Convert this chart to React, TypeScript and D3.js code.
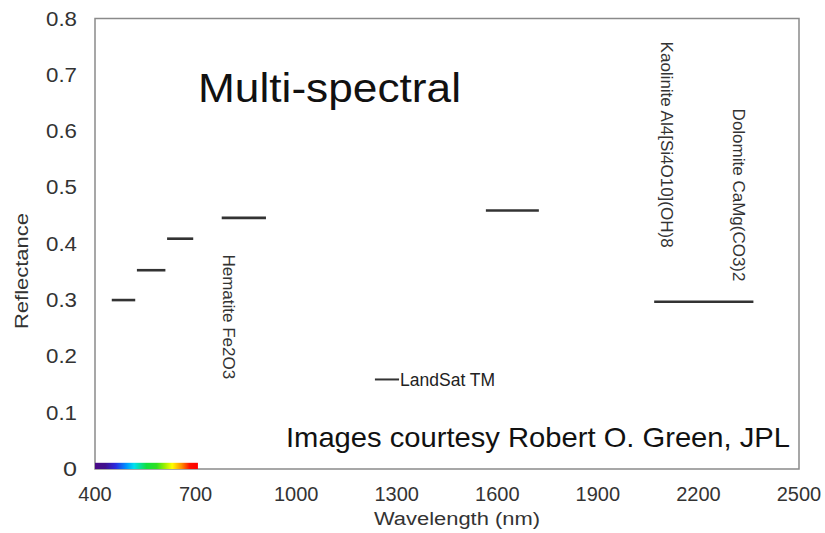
import React from "react";
import * as d3 from "d3";

// LandSat TM band edges (nm) and the reflectance level drawn for each band
const bandStart = [450, 525, 615, 778, 1566, 2068];
const bandEnd = [520, 610, 693, 910, 1724, 2364];
const bandReflectance = [0.3, 0.353, 0.409, 0.446, 0.459, 0.297];

// legend sample for the band markers
const legendStart = 1235;
const legendEnd = 1307;
const legendReflectance = 0.159;
const legendLabel = "LandSat TM";

// visible spectrum strip along the baseline
const visibleStart = 400;
const visibleEnd = 707;
const visibleHeight = 0.011;

const xTicks = [400, 700, 1000, 1300, 1600, 1900, 2200, 2500];
const yTicks = [0, 0.1, 0.2, 0.3, 0.4, 0.5, 0.6, 0.7, 0.8];
const yTickLabels = ["0", "0.1", "0.2", "0.3", "0.4", "0.5", "0.6", "0.7", "0.8"];

// mineral annotations: label, wavelength at the text baseline, reflectance where the text starts
const mineralLabels = ["Hematite Fe2O3", "Kaolinite Al4[Si4O10](OH)8", "Dolomite CaMg(CO3)2"];
const mineralWavelength = [781, 2088, 2302];
const mineralTop = [0.381, 0.759, 0.64];

const W = 825;
const H = 533;
const FONT = "'Liberation Sans', Arial, Helvetica, sans-serif";

export default function App() {
  const x = d3.scaleLinear().domain([400, 2500]).range([95, 799]);
  const y = d3.scaleLinear().domain([0, 0.8]).range([469, 18.5]);

  const spectrumStops = [
    [0, "#4a0a86"],
    [0.1, "#40108f"],
    [0.2, "#2a2ae0"],
    [0.3, "#0090ff"],
    [0.38, "#00e0f0"],
    [0.5, "#10e040"],
    [0.6, "#30e020"],
    [0.68, "#a0f000"],
    [0.75, "#ffff00"],
    [0.84, "#ff9000"],
    [0.92, "#ff1000"],
    [1, "#ff0000"],
  ];

  return (
    <svg
      width={W}
      height={H}
      style={{ position: "absolute", left: 0, top: 0, background: "#fff" }}
      fontFamily={FONT}
    >
      <defs>
        <linearGradient id="spectrum" x1="0" x2="1" y1="0" y2="0">
          {spectrumStops.map(([o, c]) => (
            <stop key={String(o)} offset={Number(o)} stopColor={String(c)} />
          ))}
        </linearGradient>
      </defs>

      {/* plot frame */}
      <rect
        x={x(400)}
        y={y(0.8)}
        width={x(2500) - x(400)}
        height={y(0) - y(0.8)}
        fill="#fff"
        stroke="#8a8a8a"
        strokeWidth={1.5}
      />

      {/* visible spectrum */}
      <rect
        x={x(visibleStart)}
        y={y(visibleHeight)}
        width={x(visibleEnd) - x(visibleStart)}
        height={y(0) - y(visibleHeight)}
        fill="url(#spectrum)"
      />

      {/* y tick labels */}
      {yTicks.map((t, i) => (
        <text
          key={t}
          x={77}
          y={y(t)}
          dy="0.36em"
          textAnchor="end"
          fontSize={19.5}
          fill="#333"
          textLength={yTickLabels[i].length === 1 ? 14 : 31}
          lengthAdjust="spacingAndGlyphs"
        >
          {yTickLabels[i]}
        </text>
      ))}

      {/* x tick labels */}
      {xTicks.map((t) => (
        <text key={t} x={x(t)} y={501} textAnchor="middle" fontSize={20} fill="#333">
          {t}
        </text>
      ))}

      {/* axis titles */}
      <text
        x={457}
        y={525}
        textAnchor="middle"
        fontSize={18}
        fill="#333"
        textLength={166}
        lengthAdjust="spacingAndGlyphs"
      >
        Wavelength (nm)
      </text>
      <text
        transform={`translate(28,271) rotate(-90)`}
        textAnchor="middle"
        fontSize={19}
        fill="#333"
        textLength={116}
        lengthAdjust="spacingAndGlyphs"
      >
        Reflectance
      </text>

      {/* band markers */}
      {bandStart.map((s, i) => (
        <line
          key={s}
          x1={x(s)}
          x2={x(bandEnd[i])}
          y1={y(bandReflectance[i])}
          y2={y(bandReflectance[i])}
          stroke="#333"
          strokeWidth={2.6}
        />
      ))}

      {/* legend */}
      <line
        x1={x(legendStart)}
        x2={x(legendEnd)}
        y1={y(legendReflectance)}
        y2={y(legendReflectance)}
        stroke="#333"
        strokeWidth={2}
      />
      <text x={x(legendEnd) + 1} y={y(legendReflectance)} dy="0.36em" fontSize={17.5} fill="#222">
        {legendLabel}
      </text>

      {/* mineral labels */}
      {mineralLabels.map((m, i) => (
        <text
          key={m}
          transform={`translate(${x(mineralWavelength[i])},${y(mineralTop[i])}) rotate(90)`}
          fontSize={17}
          fill="#333"
        >
          {m}
        </text>
      ))}

      {/* titles */}
      <text x={198} y={102} fontSize={40} fill="#111" textLength={263} lengthAdjust="spacingAndGlyphs">
        Multi-spectral
      </text>
      <text x={286} y={447} fontSize={28.5} fill="#111" textLength={504} lengthAdjust="spacingAndGlyphs">
        Images courtesy Robert O. Green, JPL
      </text>
    </svg>
  );
}
